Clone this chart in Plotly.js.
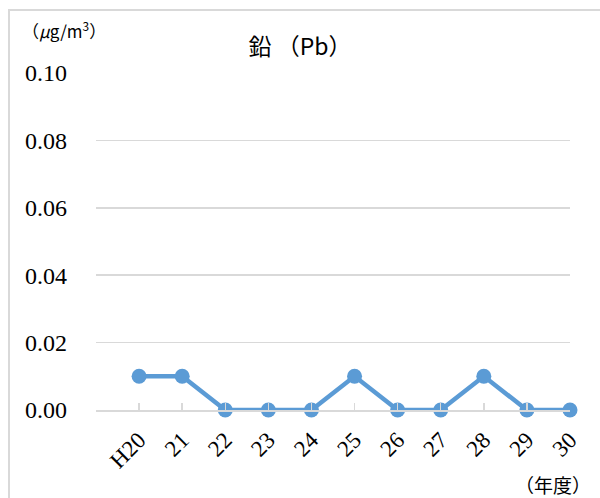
<!DOCTYPE html>
<html>
<head>
<meta charset="utf-8">
<script src="https://cdn.plot.ly/plotly-3.0.1.min.js"></script>
<style>
html,body{margin:0;padding:0;background:#fff;}
#wrap{position:relative;width:600px;height:498px;overflow:hidden;}
#chart{position:absolute;left:0;top:0;width:600px;height:498px;}
#frame{position:absolute;left:8px;top:9px;width:620px;height:520px;border-left:2px solid #d9d9d9;border-top:2px solid #d9d9d9;pointer-events:none;}
</style>
</head>
<body>
<div id="wrap"><div id="chart"></div><div id="frame"></div></div>
<script>
const categories = ["H20","21","22","23","24","25","26","27","28","29","30"];
const values = [0.01,0.01,0,0,0,0.01,0,0,0.01,0,0];
const yTicks = [0,0.02,0.04,0.06,0.08,0.10];
const yTickLabels = ["0.00","0.02","0.04","0.06","0.08","0.10"];

const xIdx = categories.map((c,i)=>i);
const tickVals = [-1].concat(xIdx);
const tickText = [""].concat(categories);

const serif = "Liberation Serif, serif";
const cjk = "Noto Sans CJK JP, sans-serif";

const trace = {
  x: xIdx, y: values, type: "scatter", mode: "lines+markers",
  line: {color: "#5b9bd5", width: 4.5},
  marker: {color: "#5b9bd5", size: 15},
  cliponaxis: false, hoverinfo: "skip"
};

const layout = {
  width: 600, height: 498,
  margin: {l: 96, r: 30, t: 73, b: 88},
  paper_bgcolor: "#fff", plot_bgcolor: "#fff",
  showlegend: false,
  title: {text: "鉛 （Pb）", font: {family: cjk, size: 23, color: "#000"},
          xref: "container", x: 0.5, xanchor: "center", yref: "container", y: 1 - 47/498, yanchor: "middle"},
  xaxis: {
    range: [-1, 10], tickmode: "array", tickvals: tickVals, ticktext: tickText,
    tickangle: -45, showgrid: false, zeroline: false,
    showline: true, linecolor: "#d9d9d9", linewidth: 1.5,
    ticks: "inside", ticklen: 7, tickcolor: "#d9d9d9", tickwidth: 1.5,
    tickfont: {family: serif, size: 23, color: "#000"}, ticklabelstandoff: 6
  },
  yaxis: {
    range: [0, 0.1], tickmode: "array", tickvals: yTicks, ticktext: yTickLabels,
    showgrid: true, gridcolor: "#d9d9d9", gridwidth: 1.5, zeroline: false,
    showline: false, ticks: "",
    tickfont: {family: serif, size: 24, color: "#000"}, ticklabelstandoff: 28
  },
  annotations: [
    {text: "（<i>μ</i>g/m<sup>3</sup>）", xref: "paper", yref: "paper",
     x: (20-96)/474, y: (410-30)/337, xanchor: "left", yanchor: "middle",
     showarrow: false, font: {family: cjk, size: 17, color: "#000"}},
    {text: "（年度）", xref: "paper", yref: "paper",
     x: (553-96)/474, y: (410-484)/337, xanchor: "center", yanchor: "middle",
     showarrow: false, font: {family: cjk, size: 19, color: "#000"}}
  ]
};

Plotly.newPlot("chart", [trace], layout, {staticPlot: true, displayModeBar: false});
</script>
</body>
</html>
